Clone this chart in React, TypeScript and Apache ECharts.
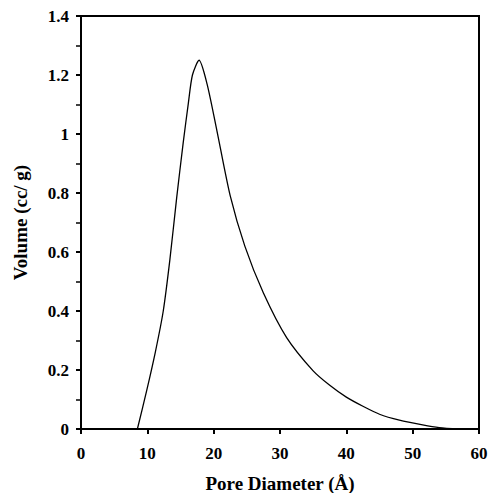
import React, { useEffect, useRef } from "react";
import * as echarts from "echarts";

const poreDiameter = [8.5, 9.9, 11.2, 12.4, 13.4, 14.43, 15.4, 16.18, 16.8, 17.8, 19, 20.5, 22.5, 24.7, 27.5, 31, 35, 37.5, 40, 42.5, 45, 48, 51.5, 54, 57];
const volume = [0, 0.13, 0.26, 0.4, 0.574, 0.785, 0.969, 1.104, 1.2, 1.25, 1.17, 1.01, 0.79, 0.62, 0.461, 0.31, 0.197, 0.148, 0.108, 0.077, 0.05, 0.03, 0.014, 0.005, 0];

const FONT = "'Liberation Serif', 'Times New Roman', serif";

export default function App() {
  const ref = useRef<HTMLDivElement>(null);
  useEffect(() => {
    if (!ref.current) return;
    const chart = echarts.init(ref.current, null, { renderer: "svg" });
    const data = poreDiameter.map((x, i) => [x, volume[i]]);
    chart.setOption({
      animation: false,
      backgroundColor: "#fff",
      grid: {
        left: 81,
        right: 11,
        top: 16,
        bottom: 64,
        show: true,
        borderColor: "#000",
        borderWidth: 2,
        outerBoundsMode: "none",
        containLabel: false,
      },
      xAxis: {
        type: "value",
        min: 0,
        max: 60,
        interval: 10,
        name: "Pore Diameter (Å)",
        nameLocation: "middle",
        nameGap: 45,
        nameTextStyle: { fontFamily: FONT, fontWeight: "bold", fontSize: 19, color: "#000" },
        axisLine: { lineStyle: { color: "#000", width: 2 } },
        axisTick: { length: 5, lineStyle: { color: "#000", width: 2 } },
        axisLabel: { fontFamily: FONT, fontWeight: "bold", fontSize: 17, color: "#000", margin: 16 },
        splitLine: { show: false },
      },
      yAxis: {
        type: "value",
        min: 0,
        max: 1.4,
        interval: 0.2,
        name: "Volume (cc/ g)",
        nameLocation: "middle",
        nameGap: 51,
        nameTextStyle: { fontFamily: FONT, fontWeight: "bold", fontSize: 19, color: "#000" },
        axisLine: { lineStyle: { color: "#000", width: 2 } },
        axisTick: { length: 5, lineStyle: { color: "#000", width: 2 } },
        minorTick: { show: true, splitNumber: 2, length: 5, lineStyle: { color: "#000", width: 1.5 } },
        axisLabel: { fontFamily: FONT, fontWeight: "bold", fontSize: 17, color: "#000", margin: 12 },
        splitLine: { show: false },
      },
      series: [
        {
          type: "line",
          data,
          smooth: 0.25,
          showSymbol: false,
          lineStyle: { color: "#000", width: 1.3 },
        },
      ],
    });
    return () => chart.dispose();
  }, []);
  return <div ref={ref} style={{ width: 490, height: 493, position: "absolute", left: 0, top: 0 }} />;
}
